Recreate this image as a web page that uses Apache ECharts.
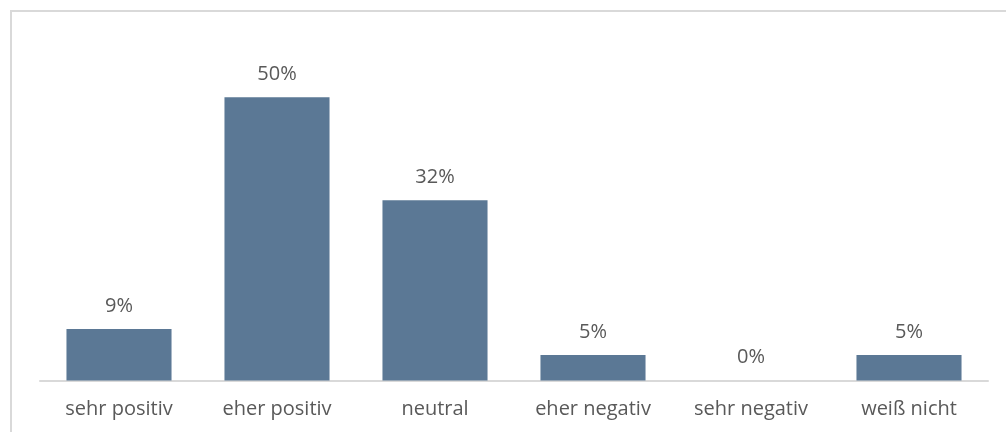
<!DOCTYPE html>
<html>
<head>
<meta charset="utf-8">
<script src="https://cdn.jsdelivr.net/npm/echarts@6/dist/echarts.min.js"></script>
<style>html,body{margin:0;padding:0;background:#fff}#c{width:1006px;height:432px}</style>
</head>
<body>
<div id="c"></div>
<script>
const categories = ['sehr positiv', 'eher positiv', 'neutral', 'eher negativ', 'sehr negativ', 'weiß nicht'];
const values = [9.1, 50, 31.8, 4.5, 0, 4.5];
const valueLabels = ['9%', '50%', '32%', '5%', '0%', '5%'];

const chart = echarts.init(document.getElementById('c'), null, {renderer: 'canvas'});
chart.setOption({
  animation: false,
  backgroundColor: '#ffffff',
  graphic: [{
    type: 'rect',
    shape: {x: 11, y: 11, width: 1200, height: 600},
    style: {fill: 'none', stroke: '#d9d9d9', lineWidth: 2}
  }],
  grid: {left: 40, right: 18, top: 40.5, bottom: 51.5, containLabel: false},
  xAxis: {
    type: 'category',
    data: categories,
    axisLine: {show: true, lineStyle: {color: '#d9d9d9', width: 2}},
    axisTick: {show: false},
    axisLabel: {color: '#595959', fontFamily: 'Open Sans', fontWeight: 400, fontSize: 20, margin: 19, interval: 0}
  },
  yAxis: {type: 'value', min: 0, max: 60, show: false, splitLine: {show: false}},
  series: [{
    type: 'bar',
    data: values,
    barCategoryGap: '33.5%',
    itemStyle: {color: '#5b7895'},
    label: {
      show: true,
      position: 'top',
      distance: 13,
      color: '#595959',
      fontFamily: 'Open Sans',
      fontWeight: 400,
      fontSize: 20,
      formatter: p => valueLabels[p.dataIndex]
    }
  }]
});
</script>
</body>
</html>
